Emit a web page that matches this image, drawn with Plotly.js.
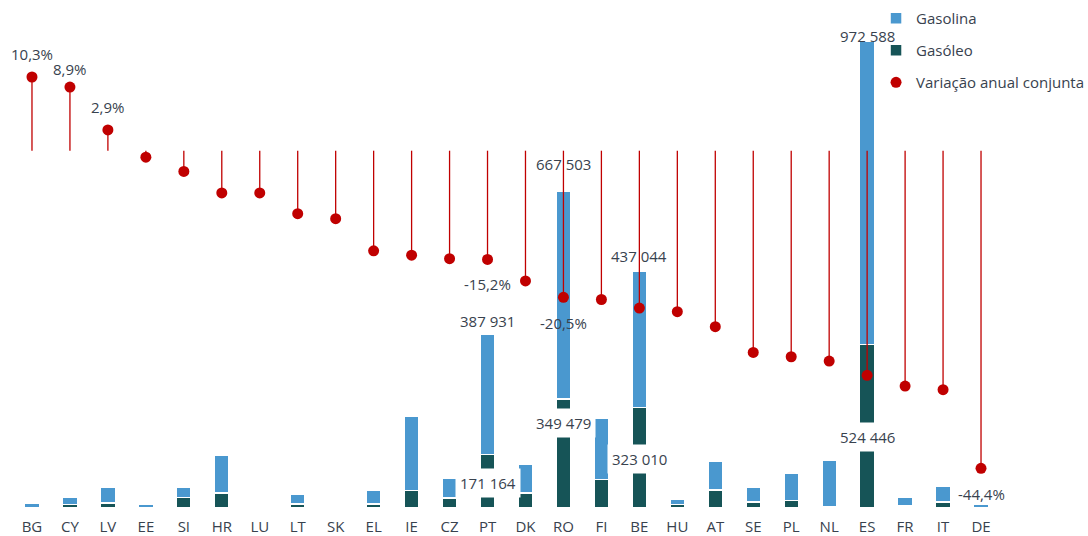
<!DOCTYPE html>
<html>
<head>
<meta charset="utf-8">
<script src="https://cdn.plot.ly/plotly-3.0.1.min.js"></script>
<style>
  html, body { margin: 0; padding: 0; background: #ffffff; }
  #chart { width: 1088px; height: 536px; }
</style>
</head>
<body>
<div id="chart"></div>
<script>
// ---------------- DATA ----------------
const countries = ['BG','CY','LV','EE','SI','HR','LU','LT','SK','EL','IE','CZ','PT','DK','RO','FI','BE','HU','AT','SE','PL','NL','ES','FR','IT','DE'];
const gasolina  = [13000, 23000, 49800, 9000, 33500, 120000, 600, 30500, 2500, 43300, 239000, 62600, 387931, 91500, 667503, 197000, 437044, 17700, 93700, 46500, 88300, 149000, 972588, 29500, 49800, 11000];
const gasoleo   = [1500, 11000, 16700, 1500, 34000, 48800, 300, 12200, 500, 13500, 56000, 31500, 171164, 47500, 349479, 91500, 323010, 11200, 57100, 18600, 24000, 3200, 524446, 6000, 18600, 1000];
const variacao  = [10.3, 8.9, 2.9, -0.9, -2.9, -5.9, -5.9, -8.8, -9.5, -14.0, -14.6, -15.1, -15.2, -18.2, -20.5, -20.8, -22.0, -22.5, -24.6, -28.2, -28.8, -29.4, -31.4, -32.9, -33.4, -44.4];
const seriesNames = ['Gasolina', 'Gasóleo', 'Variação anual conjunta'];

// which points carry a value label
const labeledBars = ['PT', 'RO', 'BE', 'ES'];
const labeledDots = ['BG', 'CY', 'LV', 'PT', 'RO', 'DE'];

// ---------------- STYLE ----------------
const BLUE = '#4A98CF';
const TEAL = '#165457';
const RED  = '#C00000';
const TXT  = '#38424E';
const FONT = 'Open Sans, Noto Sans, sans-serif';

// label placement (pixel shifts / fractions), style only
const gasolinaLabelShift = {PT: 13, RO: 27, BE: 15, ES: 6};
const gasoleoLabelFrac   = {PT: 0.474, RO: 0.783, BE: 0.487, ES: 0.436};
const dotLabelShift      = {BG: 23, CY: 18, LV: 23, PT: -25, RO: -26, DE: -26};

function fmtInt(v) { return String(Math.round(v)).replace(/\B(?=(\d{3})+(?!\d))/g, ' '); }
function fmtPct(v) { return v.toFixed(1).replace('.', ',') + '%'; }

// ---------------- TRACES ----------------
const traceGasoleo = {
  type: 'bar', name: seriesNames[1], x: countries, y: gasoleo,
  yaxis: 'y', width: 0.39, legendgroup: 'g2', legendrank: 2,
  marker: {color: TEAL, line: {color: '#ffffff', width: 1.5}},
  hoverinfo: 'x+y'
};
const traceGasolina = {
  type: 'bar', name: seriesNames[0], x: countries, y: gasolina,
  yaxis: 'y', width: 0.39, legendgroup: 'g1', legendrank: 1,
  marker: {color: BLUE, line: {color: '#ffffff', width: 1.5}},
  hoverinfo: 'x+y'
};
const traceVar = {
  type: 'scatter', mode: 'markers', name: seriesNames[2], x: countries, y: variacao,
  yaxis: 'y2', legendgroup: 'g3', legendrank: 3,
  marker: {color: RED, size: 11},
  error_y: {
    type: 'data', symmetric: false,
    array: variacao.map(v => v < 0 ? -v : 0),
    arrayminus: variacao.map(v => v > 0 ? v : 0),
    color: RED, thickness: 1.3, width: 0
  },
  hoverinfo: 'x+y'
};

// ---------------- ANNOTATIONS ----------------
const annotations = [];
labeledBars.forEach(c => {
  const i = countries.indexOf(c);
  annotations.push({
    x: c, y: gasolina[i] + gasoleo[i], xref: 'x', yref: 'y',
    text: fmtInt(gasolina[i]), showarrow: false, yanchor: 'middle',
    yshift: gasolinaLabelShift[c], font: {family: FONT, size: 15, color: TXT}
  });
  annotations.push({
    x: c, y: gasoleo[i] * gasoleoLabelFrac[c], xref: 'x', yref: 'y',
    text: fmtInt(gasoleo[i]), showarrow: false, yanchor: 'middle',
    bgcolor: '#ffffff', borderpad: 4,
    font: {family: FONT, size: 15, color: TXT}
  });
});
labeledDots.forEach(c => {
  const i = countries.indexOf(c);
  annotations.push({
    x: c, y: variacao[i], xref: 'x', yref: 'y2',
    text: fmtPct(variacao[i]), showarrow: false, yanchor: 'middle',
    yshift: dotLabelShift[c], font: {family: FONT, size: 15, color: TXT}
  });
});

// ---------------- LAYOUT ----------------
const plotTop = 10, plotBottom = 508;
const plotH = plotBottom - plotTop;
const unitsPerPx = 3210;           // bar axis scale
const pctPerPx = 1 / 7.154;        // variation axis scale
const zeroPx = 150.7;              // y pixel of 0% line

const layout = {
  width: 1088, height: 536,
  margin: {l: 13, r: 88, t: plotTop, b: 536 - plotBottom, pad: 0, autoexpand: false},
  paper_bgcolor: '#ffffff', plot_bgcolor: '#ffffff',
  barmode: 'stack',
  font: {family: FONT, size: 15, color: TXT},
  showlegend: true,
  legend: {
    x: 0.8744, xanchor: 'left', y: 1.016, yanchor: 'top',
    traceorder: 'grouped', tracegroupgap: 9.5,
    font: {family: FONT, size: 15, color: TXT},
    bgcolor: 'rgba(255,255,255,0)', itemclick: false
  },
  xaxis: {
    type: 'category', range: [-0.5, countries.length - 0.5], autorange: false,
    showgrid: false, zeroline: false, showline: false,
    ticks: 'outside', ticklen: 5, tickcolor: 'rgba(0,0,0,0)',
    tickfont: {family: FONT, size: 15, color: TXT}
  },
  yaxis: {
    range: [0, plotH * unitsPerPx],
    showgrid: false, zeroline: false, showline: false, showticklabels: false, ticks: ''
  },
  yaxis2: {
    overlaying: 'y', side: 'right',
    range: [-(plotBottom - zeroPx) * pctPerPx, (zeroPx - plotTop) * pctPerPx],
    showgrid: false, zeroline: false, showline: false, showticklabels: false, ticks: ''
  },
  annotations: annotations
};

Plotly.newPlot('chart', [traceGasoleo, traceGasolina, traceVar], layout, {displayModeBar: false, staticPlot: true});
</script>
</body>
</html>
